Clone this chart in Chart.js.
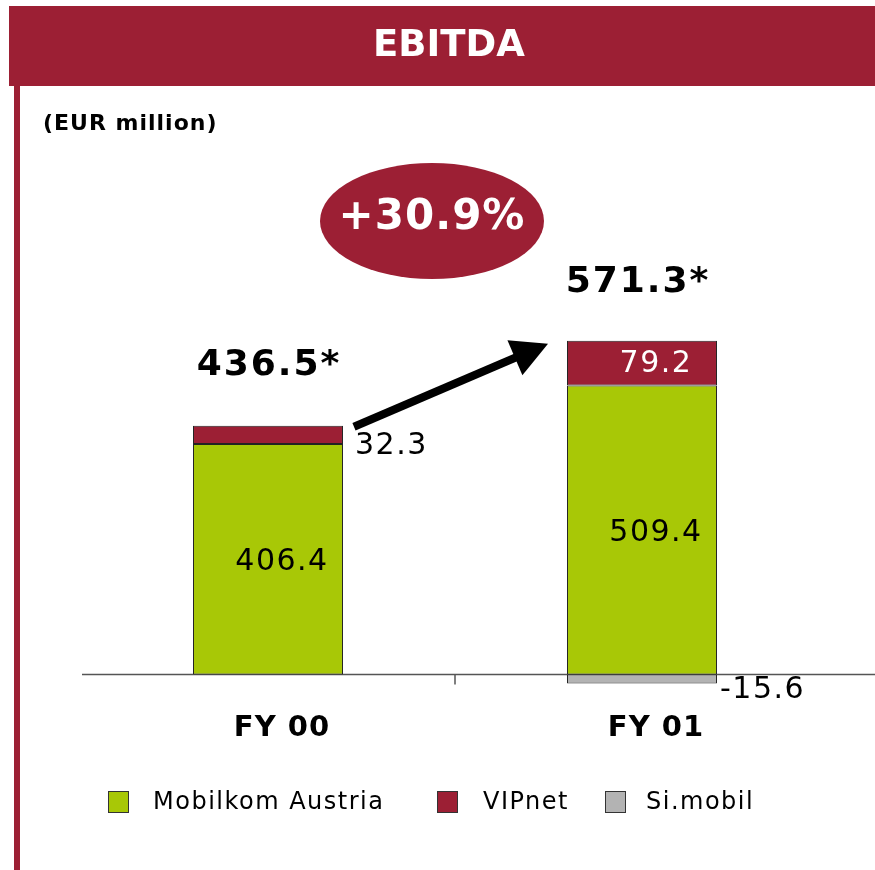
<!DOCTYPE html>
<html>
<head>
<meta charset="utf-8">
<script src="https://cdn.jsdelivr.net/npm/chart.js@4.4.1/dist/chart.umd.min.js"></script>
<style>
html,body{margin:0;padding:0;background:#fff;}
canvas{display:block;}
</style>
</head>
<body>
<canvas id="c" width="875" height="870"></canvas>
<script>
const categories = ['FY 00', 'FY 01'];
const mobilkom = [406.4, 509.4];
const vipnet = [32.3, 79.2];
const simobil = [null, -15.6];
const totals = [436.5, 571.3];
const seriesNames = ['Mobilkom Austria', 'VIPnet', 'Si.mobil'];
const title = 'EBITDA';
const unitLabel = '(EUR million)';
const growthLabel = '+30.9%';

const RED = '#9C1F34';
const GREEN = '#A8C806';
const GREY = '#B3B3B3';
const FONT = '"DejaVu Sans", Verdana, sans-serif';

function fmt(v){ return v.toFixed(1); }

const overlay = {
  id: 'overlay',
  beforeDraw(chart){
    const ctx = chart.ctx;
    ctx.save();
    ctx.fillStyle = '#fff';
    ctx.fillRect(0,0,chart.width,chart.height);
    // header band
    ctx.fillStyle = RED;
    ctx.fillRect(9, 6, 866, 80);
    // left border line
    ctx.fillRect(14, 86, 6, 784);
    // title
    ctx.fillStyle = '#fff';
    ctx.font = 'bold 37px ' + FONT;
    ctx.textAlign = 'center';
    ctx.textBaseline = 'middle';
    ctx.fillText(title, 449, 46);
    // unit label
    ctx.fillStyle = '#000';
    ctx.font = 'bold 22px ' + FONT;
    ctx.letterSpacing = '1px';
    ctx.textAlign = 'left';
    ctx.fillText(unitLabel, 43, 124);
    // growth ellipse
    ctx.fillStyle = RED;
    ctx.beginPath();
    ctx.ellipse(432, 221, 112, 58, 0, 0, Math.PI*2);
    ctx.fill();
    ctx.fillStyle = '#fff';
    ctx.font = 'bold 42px ' + FONT;
    ctx.letterSpacing = '1px';
    ctx.textAlign = 'center';
    ctx.fillText(growthLabel, 432, 218);
    ctx.restore();
  },
  beforeDatasetsDraw(chart){
    const ctx = chart.ctx;
    const y0 = chart.scales.y.getPixelForValue(0);
    const xs = chart.scales.x;
    ctx.save();
    ctx.strokeStyle = '#555';
    ctx.lineWidth = 1.5;
    ctx.beginPath();
    ctx.moveTo(82, y0); ctx.lineTo(875, y0);
    const mid = (xs.getPixelForValue(0) + xs.getPixelForValue(1)) / 2;
    ctx.moveTo(mid, y0); ctx.lineTo(mid, y0 + 10);
    ctx.stroke();
    ctx.restore();
  },
  afterDatasetsDraw(chart){
    const ctx = chart.ctx;
    const ys = chart.scales.y, xs = chart.scales.x;
    const m0 = chart.getDatasetMeta(0), m1 = chart.getDatasetMeta(1), m2 = chart.getDatasetMeta(2);
    ctx.save();
    ctx.textBaseline = 'middle';
    // segment labels
    ctx.font = '30px ' + FONT;
    ctx.letterSpacing = '1.5px';
    ctx.fillStyle = '#000';
    ctx.textAlign = 'center';
    for (let i = 0; i < categories.length; i++) {
      const b = m0.data[i];
      const yc = (ys.getPixelForValue(mobilkom[i]) + ys.getPixelForValue(0)) / 2;
      ctx.fillText(fmt(mobilkom[i]), b.x + 14, yc + 3);
    }
    // VIPnet labels
    {
      const b0 = m1.data[0];
      ctx.textAlign = 'left';
      ctx.fillStyle = '#000';
      ctx.fillText(fmt(vipnet[0]), b0.x + b0.width/2 + 12, ys.getPixelForValue(mobilkom[0]) + 2);
      const b1 = m1.data[1];
      ctx.textAlign = 'center';
      ctx.fillStyle = '#fff';
      const yc = (ys.getPixelForValue(mobilkom[1]) + ys.getPixelForValue(mobilkom[1] + vipnet[1])) / 2;
      ctx.fillText(fmt(vipnet[1]), b1.x + 14, yc + 1);
    }
    // Si.mobil label
    {
      const b = m2.data[1];
      ctx.textAlign = 'left';
      ctx.fillStyle = '#000';
      ctx.fillText(fmt(simobil[1]), b.x + b.width/2 + 3, ys.getPixelForValue(0) + 16);
    }
    // totals
    ctx.font = 'bold 36px ' + FONT;
    ctx.letterSpacing = '2px';
    ctx.fillStyle = '#000';
    ctx.textAlign = 'center';
    for (let i = 0; i < categories.length; i++) {
      const top = ys.getPixelForValue(mobilkom[i] + vipnet[i]);
      ctx.fillText(fmt(totals[i]) + '*', xs.getPixelForValue(i) + 1 - 5*i, top - 60 + 2*i);
    }
    // category labels
    ctx.font = 'bold 29px ' + FONT;
    ctx.letterSpacing = '1px';
    for (let i = 0; i < categories.length; i++) {
      ctx.fillText(categories[i], xs.getPixelForValue(i) + 14, ys.getPixelForValue(0) + 54);
    }
    ctx.letterSpacing = '0px';
    // arrow
    {
      const bA = m1.data[0], bB = m1.data[1];
      const sx = bA.x + bA.width/2 + 11, sy = ys.getPixelForValue(mobilkom[0] + vipnet[0]) + 1;
      const tx = bB.x - bB.width/2 - 19, ty = ys.getPixelForValue(mobilkom[1] + vipnet[1]) + 3;
      const ang = Math.atan2(ty - sy, tx - sx);
      const hl = 36, hw = 19;
      const bx = tx - hl*Math.cos(ang), by = ty - hl*Math.sin(ang);
      ctx.strokeStyle = '#000';
      ctx.lineWidth = 8;
      ctx.beginPath();
      ctx.moveTo(sx, sy); ctx.lineTo(bx + 4*Math.cos(ang), by + 4*Math.sin(ang));
      ctx.stroke();
      ctx.fillStyle = '#000';
      ctx.beginPath();
      ctx.moveTo(tx, ty);
      ctx.lineTo(bx + hw*Math.sin(ang), by - hw*Math.cos(ang));
      ctx.lineTo(bx - hw*Math.sin(ang), by + hw*Math.cos(ang));
      ctx.closePath();
      ctx.fill();
    }
    // legend
    {
      const colors = [GREEN, RED, GREY];
      const boxX = [108, 437, 605];
      const txtX = [153, 483, 646];
      ctx.font = '24px ' + FONT;
      ctx.letterSpacing = '1.5px';
      ctx.textAlign = 'left';
      for (let i = 0; i < 3; i++) {
        ctx.fillStyle = colors[i];
        ctx.fillRect(boxX[i], 791, 21, 22);
        ctx.strokeStyle = '#333';
        ctx.lineWidth = 1;
        ctx.strokeRect(boxX[i] + 0.5, 791.5, 20, 21);
        ctx.fillStyle = '#000';
        ctx.fillText(seriesNames[i], txtX[i], 803);
      }
    }
    ctx.restore();
  }
};

new Chart(document.getElementById('c'), {
  type: 'bar',
  data: {
    labels: categories,
    datasets: [
      { label: seriesNames[0], data: mobilkom, backgroundColor: GREEN },
      { label: seriesNames[1], data: vipnet, backgroundColor: RED },
      { label: seriesNames[2], data: simobil, backgroundColor: GREY }
    ].map(d => Object.assign(d, {
      borderColor: '#222', borderWidth: 1, borderSkipped: false,
      barPercentage: 0.401, categoryPercentage: 1.0, stack: 's'
    }))
  },
  options: {
    responsive: false,
    animation: false,
    events: [],
    layout: { padding: { top: 164, bottom: 150, left: 81, right: 46 } },
    plugins: { legend: { display: false }, tooltip: { enabled: false }, title: { display: false } },
    scales: {
      x: { display: false, stacked: true, offset: true },
      y: { display: false, stacked: true, min: -80, max: 900 }
    }
  },
  plugins: [overlay]
});
</script>
</body>
</html>
